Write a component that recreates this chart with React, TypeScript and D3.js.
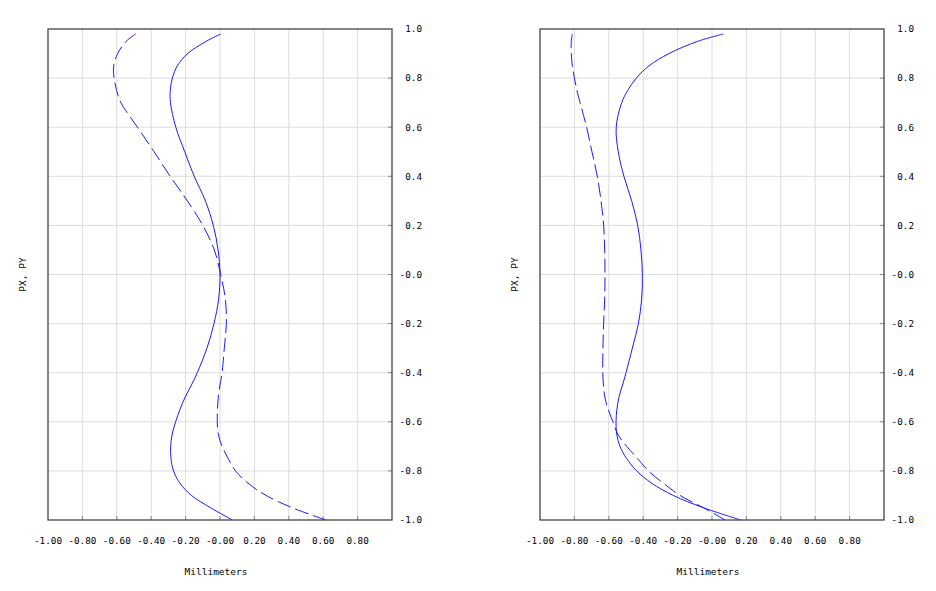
import React from "react";
import * as d3 from "d3";

const yLevels = [0.98, 0.95, 0.9, 0.85, 0.8, 0.75, 0.7, 0.6, 0.5, 0.4, 0.3, 0.2, 0.1, 0, -0.1, -0.2, -0.3, -0.4, -0.45, -0.5, -0.55, -0.6, -0.65, -0.7, -0.75, -0.8, -0.85, -0.9, -0.95, -1.0];

const leftSolid = [0.005, -0.08, -0.188, -0.248, -0.277, -0.289, -0.288, -0.257, -0.205, -0.15, -0.085, -0.039, -0.011, 0.0, -0.008, -0.035, -0.076, -0.132, -0.166, -0.203, -0.233, -0.258, -0.278, -0.287, -0.285, -0.27, -0.233, -0.166, -0.055, 0.072];
const leftDashed = [-0.49, -0.545, -0.595, -0.618, -0.616, -0.601, -0.576, -0.48, -0.383, -0.29, -0.19, -0.1, -0.033, 0.004, 0.031, 0.037, 0.025, 0.012, 0.0, -0.01, -0.015, -0.016, -0.01, 0.012, 0.048, 0.09, 0.163, 0.268, 0.42, 0.616];
const rightSolid = [0.066, -0.082, -0.25, -0.366, -0.44, -0.49, -0.525, -0.557, -0.545, -0.512, -0.467, -0.432, -0.413, -0.405, -0.409, -0.428, -0.463, -0.5, -0.52, -0.541, -0.553, -0.558, -0.554, -0.535, -0.496, -0.438, -0.351, -0.225, -0.05, 0.167];
const rightDashed = [-0.812, -0.818, -0.818, -0.812, -0.8, -0.785, -0.767, -0.729, -0.698, -0.667, -0.645, -0.63, -0.624, -0.622, -0.624, -0.63, -0.634, -0.635, -0.631, -0.623, -0.603, -0.576, -0.548, -0.496, -0.432, -0.37, -0.283, -0.186, -0.05, 0.076];

const xTickValues = [-1, -0.8, -0.6, -0.4, -0.2, 0, 0.2, 0.4, 0.6, 0.8];
const xTickLabels = ["-1.00", "-0.80", "-0.60", "-0.40", "-0.20", "-0.00", "0.20", "0.40", "0.60", "0.80"];
const yTickValues = [1, 0.8, 0.6, 0.4, 0.2, 0, -0.2, -0.4, -0.6, -0.8, -1];
const yTickLabels = ["1.0", "0.8", "0.6", "0.4", "0.2", "-0.0", "-0.2", "-0.4", "-0.6", "-0.8", "-1.0"];

const xAxisTitle = "Millimeters";
const yAxisTitle = "PX, PY";

const FONT = "'DejaVu Sans Mono', monospace";
const BLUE = "#1a1aff";

type PanelProps = { left: number; solid: number[]; dashed: number[] };

function Panel({ left, solid, dashed }: PanelProps) {
  const top = 29;
  const bottom = 520;
  const width = 344;
  const x = d3.scaleLinear().domain([-1, 1]).range([left, left + width]);
  const y = d3.scaleLinear().domain([-1, 1]).range([bottom, top]);
  const line = d3
    .line<[number, number]>()
    .x((d) => x(d[0]))
    .y((d) => y(d[1]))
    .curve(d3.curveCatmullRom.alpha(0.5));
  const solidPts = solid.map((v, i) => [v, yLevels[i]] as [number, number]);
  const dashedPts = dashed.map((v, i) => [v, yLevels[i]] as [number, number]);
  const gridX = d3.range(-0.8, 0.81, 0.2);
  const gridY = d3.range(-0.8, 0.81, 0.2);
  return (
    <g>
      {gridX.map((v, i) => (
        <line key={"gx" + i} x1={x(v)} x2={x(v)} y1={top} y2={bottom} stroke="#dcdcdc" strokeWidth={1} />
      ))}
      {gridY.map((v, i) => (
        <line key={"gy" + i} x1={left} x2={left + width} y1={y(v)} y2={y(v)} stroke="#dcdcdc" strokeWidth={1} />
      ))}
      {gridX.map((v, i) => (
        <line key={"tx" + i} x1={x(v)} x2={x(v)} y1={bottom - 4} y2={bottom} stroke="#888" strokeWidth={1} />
      ))}
      {gridY.map((v, i) => (
        <line key={"ty" + i} x1={left + width - 4} x2={left + width} y1={y(v)} y2={y(v)} stroke="#888" strokeWidth={1} />
      ))}
      <path d={line(solidPts) || ""} fill="none" stroke={BLUE} strokeWidth={1} />
      <path d={line(dashedPts) || ""} fill="none" stroke={BLUE} strokeWidth={1} strokeDasharray="14,5" />
      <rect x={left} y={top} width={width} height={bottom - top} fill="none" stroke="#444" strokeWidth={1.3} />
      {xTickValues.map((v, i) => (
        <text key={"xl" + i} x={x(v)} y={544} textAnchor="middle" fontFamily={FONT} fontSize={9.3} fill="#000">
          {xTickLabels[i]}
        </text>
      ))}
      {yTickValues.map((v, i) => (
        <text key={"yl" + i} x={left + width + 30} y={y(v) + 3.3} textAnchor="end" fontFamily={FONT} fontSize={9.3} fill="#000">
          {yTickLabels[i]}
        </text>
      ))}
      <text x={left + width / 2 - 4} y={575} textAnchor="middle" fontFamily={FONT} fontSize={9.5} fill="#000">
        {xAxisTitle}
      </text>
      <text
        transform={`translate(${left - 22},${(top + bottom) / 2}) rotate(-90)`}
        textAnchor="middle"
        fontFamily={FONT}
        fontSize={9.5}
        fill="#000"
      >
        {yAxisTitle}
      </text>
    </g>
  );
}

export default function App() {
  return (
    <svg width={936} height={591} style={{ position: "absolute", left: 0, top: 0, background: "#fff" }}>
      <rect width={936} height={591} fill="#fff" />
      <Panel left={48} solid={leftSolid} dashed={leftDashed} />
      <Panel left={540} solid={rightSolid} dashed={rightDashed} />
    </svg>
  );
}
